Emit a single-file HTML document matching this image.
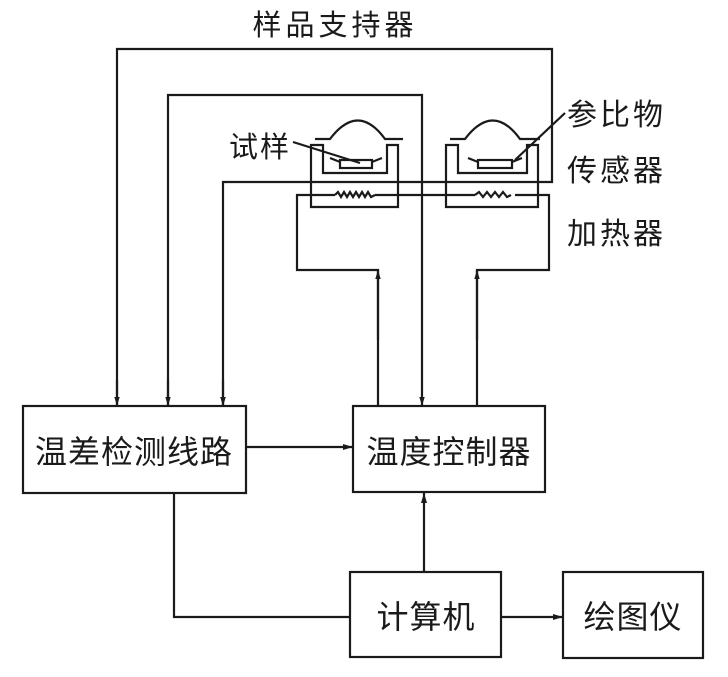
<!DOCTYPE html>
<html><head><meta charset="utf-8"><style>
html,body{margin:0;padding:0;background:#fff;}
svg{display:block;}
text{font-family:"Liberation Sans","Noto Sans CJK SC",sans-serif;fill:#1a1a1a;}
</style></head><body>
<svg width="728" height="677" viewBox="0 0 728 677" xmlns="http://www.w3.org/2000/svg">
<defs>
<marker id="a" viewBox="0 0 10 10" refX="10" refY="5" markerWidth="9" markerHeight="9" markerUnits="userSpaceOnUse" orient="auto"><path d="M0,2 L10,5 L0,8 Z" fill="#1a1a1a"/></marker>
<marker id="b" viewBox="0 0 10 10" refX="10" refY="5" markerWidth="14" markerHeight="10" markerUnits="userSpaceOnUse" orient="auto"><path d="M0,2 L10,5 L0,8 Z" fill="#1a1a1a"/></marker>
</defs>
<g stroke="#1a1a1a" stroke-width="2.2" fill="none">
<!-- outer loop -->
<path d="M117,406 V49 H552 V182 H223 V406" marker-end="url(#a)"/>
<line x1="117" y1="380" x2="117" y2="406" marker-end="url(#a)"/>
<path d="M168,406 V95 H422 V406" marker-end="url(#a)"/>
<line x1="168" y1="380" x2="168" y2="406" marker-end="url(#a)"/>
<line x1="223" y1="380" x2="223" y2="406" marker-end="url(#a)"/>
<!-- heater circuit -->
<path d="M378,406 V270 H297 V195 H335"/>
<line x1="378" y1="340" x2="378" y2="270" marker-end="url(#a)"/>
<path d="M375,195 H475"/>
<path d="M515,195 H549 V270 H477 V406"/>
<line x1="477" y1="340" x2="477" y2="270" marker-end="url(#a)"/>
<!-- zigzags -->
<path d="M335,195 l3,-3 l3,5 l3,-5 l3,5 l3,-5 l3,5 l3,-5 l3,5 l3,-5 l3,5 l3,-5 l3,5 l4,-2"/>
<path d="M475,195 l4,-3 l4,5 l4,-5 l4,5 l4,-5 l4,5 l4,-5 l4,5 l4,-2"/>
<!-- left holder -->
<path d="M311,145 V207 H398 V145 H387 V173 H323 V145 Z"/>
<rect x="340" y="160" width="32" height="8"/>
<path d="M330,158 l10,4 M382,158 l-10,4"/>
<path d="M315,139 H330 Q358,102 385,139 H403"/>
<!-- right holder -->
<path d="M446,145 V207 H538 V145 H527 V173 H458 V145 Z"/>
<rect x="478" y="160" width="34" height="8"/>
<path d="M468,158 l10,4 M522,158 l-10,4"/>
<path d="M450,139 H465 Q493,102 520,139 H540"/>
<!-- leaders -->
<line x1="293" y1="142" x2="360" y2="163"/>
<line x1="565" y1="113" x2="515" y2="160"/>
<!-- boxes -->
<rect x="23" y="406" width="223" height="87"/>
<rect x="353" y="406" width="192" height="86"/>
<rect x="350" y="572" width="151" height="85"/>
<rect x="563" y="572" width="140" height="86"/>
<line x1="246" y1="447" x2="353" y2="447" marker-end="url(#b)"/>
<line x1="424" y1="572" x2="424" y2="493" marker-end="url(#b)"/>
<path d="M174,493 V617 H350"/>
<line x1="501" y1="617" x2="563" y2="617" marker-end="url(#b)"/>
</g>
<text x="335" y="35" font-size="29" text-anchor="middle" letter-spacing="4">样品支持器</text>
<text x="229" y="157" font-size="29" letter-spacing="2">试样</text>
<text x="567" y="125" font-size="30" letter-spacing="3">参比物</text>
<text x="567" y="181" font-size="30" letter-spacing="3">传感器</text>
<text x="567" y="244" font-size="30" letter-spacing="3">加热器</text>
<text x="134" y="463" font-size="32" text-anchor="middle" letter-spacing="1">温差检测线路</text>
<text x="449" y="463" font-size="32" text-anchor="middle" letter-spacing="1">温度控制器</text>
<text x="426" y="628" font-size="32" text-anchor="middle" letter-spacing="1">计算机</text>
<text x="633" y="628" font-size="32" text-anchor="middle" letter-spacing="1">绘图仪</text>
</svg>
</body></html>
